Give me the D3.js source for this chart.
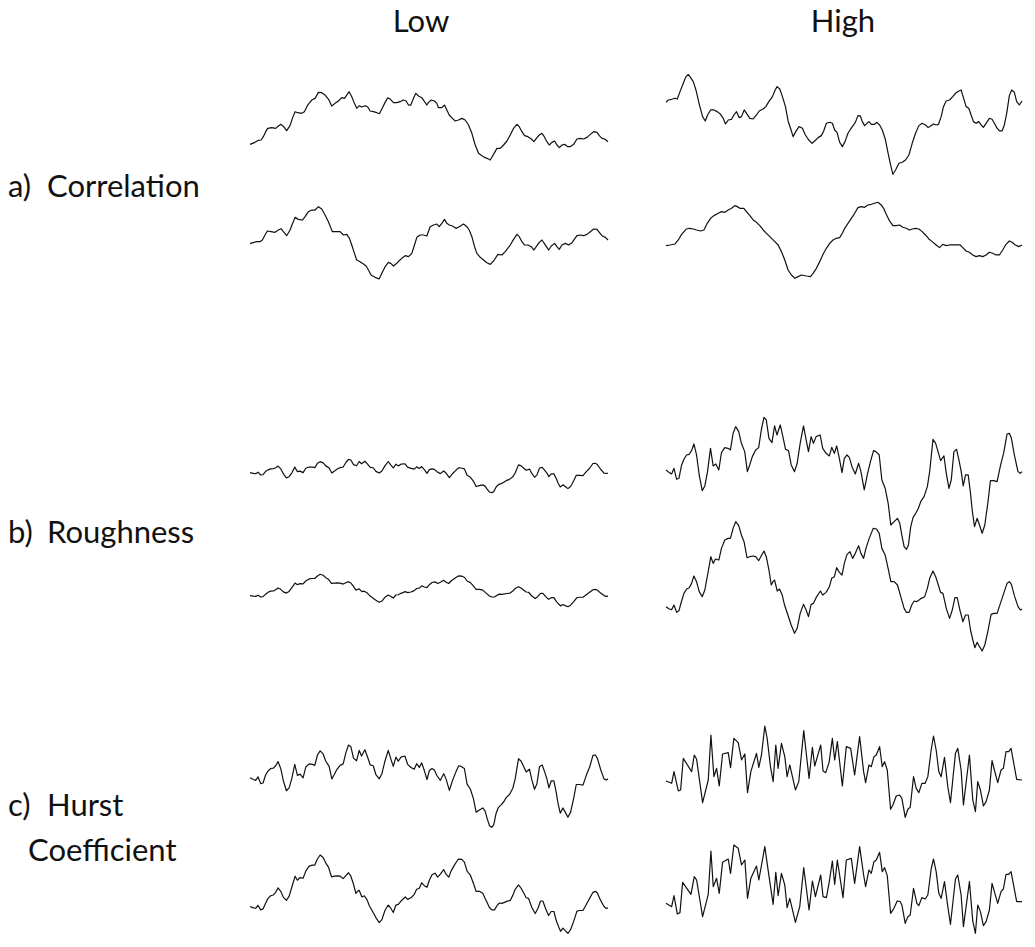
<!DOCTYPE html>
<html>
<head>
<meta charset="utf-8">
<script src="https://cdn.jsdelivr.net/npm/d3@7"></script>
<style>
  body { margin: 0; background: #fff; }
  text { font-family: "Lato", "Open Sans", sans-serif; fill: #111; }
</style>
</head>
<body>
<div id="chart"></div>
<script>
// column / row headings
var colLabels = ["Low", "High"];
var rowPrefix = ["a)", "b)", "c)"];
var rowLabels = [["Correlation"], ["Roughness"], ["Hurst", "Coefficient"]];

// each series is a list of [time, value] samples
var corrLowA = [[15,62],[30,68],[40,74],[48,75],[55,85],[62,100],[68,110],[80,112],[92,110],[100,117],[108,122],[116,115],[125,103],[135,118],[142,140],[150,160],[158,157],[170,155],[178,160],[188,180],[200,195],[210,200],[220,218],[230,217],[240,210],[250,198],[260,177],[270,185],[280,192],[290,202],[298,200],[305,210],[312,220],[320,205],[328,185],[335,170],[343,178],[350,174],[360,178],[368,174],[375,162],[385,160],[395,157],[403,154],[410,168],[420,188],[428,202],[435,198],[445,187],[455,187],[465,190],[475,195],[483,192],[490,180],[497,180],[505,200],[512,215],[520,207],[530,202],[538,190],[545,180],[550,188],[558,195],[568,192],[575,185],[580,172],[590,172],[598,180],[605,165],[612,150],[622,140],[630,132],[640,135],[650,140],[660,135],[670,120],[680,95],[690,60],[700,35],[710,28],[720,22],[730,18],[735,15],[745,32],[755,50],[765,50],[775,60],[785,72],[795,90],[805,110],[815,122],[822,115],[830,100],[838,88],[848,85],[858,78],[866,70],[875,82],[882,90],[890,95],[897,85],[905,70],[912,60],[920,68],[928,72],[935,60],[942,52],[950,60],[958,62],[967,55],[975,55],[985,62],[995,78],[1005,80],[1015,78],[1025,83],[1035,92],[1045,100],[1055,98],[1062,88],[1070,80],[1078,78],[1088,70]];

var corrLowB = [[15,125],[25,127],[35,130],[45,130],[52,135],[60,150],[67,162],[78,160],[90,158],[100,165],[108,169],[115,160],[125,148],[135,165],[142,183],[150,203],[160,197],[172,195],[180,205],[190,220],[200,225],[210,225],[220,235],[230,228],[240,210],[250,190],[258,170],[262,160],[275,160],[285,160],[295,150],[305,152],[313,140],[320,120],[328,95],[335,75],[345,70],[355,63],[363,57],[370,45],[378,30],[390,23],[402,18],[410,35],[420,55],[430,68],[437,65],[445,57],[455,65],[462,73],[470,80],[480,88],[490,85],[500,95],[508,120],[515,143],[525,150],[535,150],[545,147],[555,175],[565,180],[575,183],[582,175],[590,185],[598,197],[605,185],[612,180],[622,177],[632,170],[642,175],[655,183],[665,175],[672,165],[680,145],[688,115],[695,95],[705,83],[715,75],[725,67],[735,62],[745,72],[758,92],[770,90],[780,100],[795,120],[805,137],[815,152],[822,145],[830,130],[838,120],[848,120],[858,115],[866,105],[875,118],[882,128],[890,135],[897,125],[905,113],[910,105],[918,117],[928,125],[935,115],[942,107],[950,120],[960,125],[970,120],[980,127],[995,148],[1005,150],[1015,148],[1025,152],[1035,160],[1045,168],[1055,167],[1062,158],[1070,148],[1080,143],[1088,135]];

var corrHighA = [[18,233],[25,240],[35,242],[45,245],[52,243],[60,265],[70,290],[78,310],[85,317],[92,307],[100,295],[108,270],[118,227],[128,190],[136,177],[143,195],[152,210],[162,210],[172,205],[182,197],[190,185],[197,168],[205,180],[215,182],[222,195],[230,205],[238,187],[245,190],[253,210],[260,200],[270,185],[280,183],[290,195],[298,207],[310,213],[318,220],[327,235],[338,250],[346,270],[352,280],[360,273],[368,250],[377,220],[385,177],[393,153],[400,130],[408,145],[418,160],[428,155],[437,135],[447,120],[457,110],[465,117],[475,127],[485,133],[492,147],[500,170],[510,173],[518,170],[525,150],[532,143],[540,113],[548,100],[556,115],[565,140],[573,153],[582,165],[588,175],[595,193],[602,192],[608,175],[615,163],[622,170],[628,175],[635,167],[645,167],[652,173],[660,165],[668,150],[677,123],[685,83],[693,45],[700,17],[708,30],[718,50],[728,53],[738,60],[748,75],[758,110],[768,140],[778,163],[788,170],[798,165],[806,157],[813,162],[822,168],[830,165],[837,167],[845,190],[852,220],[860,237],[870,240],[880,250],[888,260],[898,267],[905,270],[912,247],[920,220],[928,215],[935,195],[942,175],[950,170],[958,175],[965,165],[972,158],[980,170],[990,185],[998,182],[1005,170],[1012,157],[1020,147],[1028,147],[1035,165],[1042,200],[1050,253],[1057,270],[1065,263],[1072,235],[1080,225],[1088,237]];

var corrHighB = [[18,118],[30,120],[45,123],[55,135],[65,152],[78,167],[88,170],[100,168],[110,165],[122,162],[132,165],[142,185],[152,200],[162,208],[175,215],[185,220],[195,218],[205,225],[215,230],[225,238],[232,235],[240,230],[252,230],[260,220],[270,208],[280,195],[290,188],[300,178],[310,165],[320,155],[330,145],[345,130],[355,120],[365,100],[375,75],[385,45],[395,30],[405,20],[415,25],[425,30],[440,27],[452,25],[460,35],[470,50],[480,70],[490,92],[500,110],[510,125],[520,135],[530,140],[540,142],[548,155],[555,170],[565,185],[575,200],[585,215],[595,232],[605,235],[615,233],[625,240],[635,242],[645,245],[655,248],[665,240],[672,230],[680,212],[690,192],[700,178],[710,178],[720,180],[730,173],[740,170],[750,165],[758,168],[768,170],[778,168],[788,160],[798,150],[808,138],[818,130],[830,120],[840,112],[850,122],[860,118],[870,120],[880,120],[892,120],[902,120],[910,112],[920,102],[930,98],[940,90],[950,85],[960,88],[970,85],[980,90],[990,98],[1000,95],[1010,90],[1020,90],[1030,105],[1040,122],[1050,132],[1058,128],[1068,120],[1078,115],[1088,120]];

// roughness / low-hurst pair (same signal, different amplitude)
var roughA = [[18,255],[28,247],[35,243],[42,260],[50,227],[57,230],[65,270],[72,287],[80,300],[88,302],[95,313],[102,333],[110,300],[118,240],[127,193],[135,207],[143,250],[152,320],[160,267],[168,273],[177,255],[185,307],[195,322],[205,320],[212,315],[220,365],[228,385],[237,370],[245,335],[255,310],[263,250],[270,270],[278,295],[288,315],[297,322],[305,375],[313,413],[320,405],[328,350],[337,337],[345,387],[352,360],[362,390],[370,355],[378,317],[387,313],[395,270],[405,250],[413,275],[422,335],[432,387],[440,345],[447,310],[455,355],[462,335],[470,355],[482,360],[490,320],[500,305],[510,297],[517,323],[525,305],[532,327],[540,290],[548,247],[555,290],[563,300],[570,293],[578,265],[588,243],[598,275],[605,250],[615,195],[625,245],[635,285],[643,313],[650,310],[660,300],[668,225],[678,200],[687,155],[695,90],[705,100],[715,110],[722,95],[728,60],[735,25],[742,17],[748,30],[755,85],[762,113],[770,125],[778,140],[785,160],[795,175],[805,205],[812,250],[822,347],[830,335],[838,307],[845,283],[855,297],[862,245],[870,200],[877,225],[885,310],[893,317],[900,285],[907,250],[913,207],[920,240],[928,240],[935,185],[940,135],[947,85],[955,110],[962,90],[970,65],[978,90],[987,155],[995,223],[1005,223],[1015,220],[1025,267],[1035,307],[1045,363],[1052,365],[1058,350],[1068,295],[1078,250],[1085,245],[1090,250]];

var roughB = [[18,145],[28,138],[35,136],[42,150],[50,128],[57,133],[65,162],[72,185],[80,198],[88,202],[95,215],[102,237],[110,220],[118,190],[127,175],[135,195],[145,250],[153,295],[160,275],[167,288],[177,285],[185,320],[195,345],[205,350],[212,350],[220,380],[228,400],[237,388],[245,360],[253,340],[262,292],[270,295],[280,297],[288,295],[297,283],[305,298],[313,312],[320,295],[328,255],[335,210],[340,220],[345,225],[353,192],[360,198],[368,180],[375,150],[385,120],[395,90],[405,65],[413,80],[422,125],[432,152],[440,135],[447,115],[455,152],[462,155],[470,172],[483,192],[490,180],[500,188],[510,205],[517,230],[525,235],[532,262],[540,248],[548,240],[555,275],[563,302],[572,310],[580,290],[588,305],[598,328],[605,305],[613,290],[620,320],[630,350],[642,380],[652,378],[660,365],[668,320],[678,300],[688,255],[695,220],[705,220],[715,210],[725,175],[735,140],[742,128],[750,128],[758,150],[765,162],[772,160],[780,165],[787,170],[797,175],[805,200],[812,230],[822,252],[830,235],[838,210],[845,188],[852,185],[862,140],[872,110],[880,135],[888,172],[895,172],[903,135],[912,100],[920,120],[928,120],[935,75],[942,45],[948,22],[955,38],[962,25],[970,12],[978,30],[988,75],[997,122],[1005,125],[1015,125],[1025,155],[1035,185],[1045,215],[1052,220],[1058,212],[1068,175],[1078,145],[1085,135],[1090,138]];

var hurstHighA = [[18,117],[35,110],[42,145],[55,87],[62,90],[70,185],[95,145],[103,195],[110,182],[128,52],[145,120],[153,255],[162,130],[170,155],[178,102],[188,198],[205,202],[212,157],[222,245],[235,232],[245,180],[255,198],[263,82],[273,145],[290,200],[297,158],[305,195],[315,282],[322,245],[332,160],[340,115],[348,225],[355,155],[365,230],[375,190],[382,130],[390,165],[407,90],[417,115],[432,268],[448,125],[458,218],[465,162],[483,225],[490,147],[498,142],[508,172],[518,245],[525,180],[533,235],[548,102],[560,220],[573,215],[585,135],[600,250],[612,145],[618,112],[628,165],[635,160],[643,190],[650,195],[660,220],[668,160],[675,175],[683,150],[693,32],[700,45],[710,72],[720,75],[727,65],[737,8],[745,32],[752,38],[762,130],[770,95],[778,82],[787,110],[797,110],[805,130],[815,210],[822,252],[830,210],[838,145],[845,130],[855,188],[865,100],[873,52],[888,200],[895,215],[905,150],[912,45],[930,195],[940,60],[948,25],[955,115],[963,90],[972,42],[980,55],[990,90],[998,178],[1005,150],[1015,112],[1025,150],[1032,155],[1040,205],[1048,205],[1055,215],[1072,122],[1088,120]];

var hurstHighB = [[18,95],[35,85],[42,118],[52,63],[60,67],[68,158],[93,122],[103,175],[110,165],[128,55],[145,122],[153,252],[160,145],[170,170],[178,125],[188,218],[205,228],[212,185],[222,270],[235,260],[245,210],[255,225],[263,110],[273,170],[290,207],[297,165],[315,265],[322,215],[340,92],[348,188],[355,118],[365,185],[375,150],[382,82],[390,110],[407,38],[420,85],[432,202],[448,75],[458,162],[467,115],[483,180],[490,115],[500,112],[508,155],[518,222],[525,152],[533,225],[550,112],[560,225],[575,230],[585,155],[600,265],[612,180],[618,145],[628,195],[635,185],[643,220],[650,225],[660,248],[668,190],[675,202],[683,178],[693,65],[703,80],[713,102],[722,100],[727,90],[737,35],[745,55],[752,60],[762,140],[772,95],[778,88],[787,112],[797,108],[805,120],[815,198],[822,228],[830,190],[838,125],[845,110],[855,160],[865,85],[873,32],[888,168],[895,180],[905,120],[912,25],[930,160],[940,42],[948,5],[955,90],[963,70],[972,28],[980,40],[990,75],[998,155],[1005,130],[1015,95],[1025,130],[1032,138],[1040,182],[1048,182],[1055,190],[1072,100],[1088,100]];

// layout
var W = 1035, H = 947;
var colX = [[250, 608], [666, 1022]];

// which series goes where, with its vertical band in px
var panels = [
    { series: corrLowA,   col: 0, band: [91.7, 160] },
    { series: corrLowB,   col: 0, band: [206.7, 279] },
    { series: corrHighA,  col: 1, band: [74.3, 174.3] },
    { series: corrHighB,  col: 1, band: [202.3, 278.3] },
    { series: roughA,     col: 0, band: [459.3, 492.7] },
    { series: roughB,     col: 0, band: [574.3, 606.7] },
    { series: roughA,     col: 1, band: [417.3, 549.3] },
    { series: roughB,     col: 1, band: [521.7, 651] },
    { series: roughA,     col: 0, band: [745, 827.3] },
    { series: roughB,     col: 0, band: [855, 933.3] },
    { series: hurstHighA, col: 1, band: [726, 817.3] },
    { series: hurstHighB, col: 1, band: [845, 933.3] }
];

var svg = d3.select("#chart")
    .append("svg")
    .attr("width", W)
    .attr("height", H);

panels.forEach(function (p) {
    var x = d3.scaleLinear()
        .domain(d3.extent(p.series, function (d) { return d[0]; }))
        .range(colX[p.col]);
    var y = d3.scaleLinear()
        .domain(d3.extent(p.series, function (d) { return d[1]; }))
        .range([p.band[1], p.band[0]]);
    var line = d3.line()
        .x(function (d) { return x(d[0]); })
        .y(function (d) { return y(d[1]); });
    svg.append("path")
        .datum(p.series)
        .attr("d", line)
        .attr("fill", "none")
        .attr("stroke", "#111")
        .attr("stroke-width", 1.2)
        .attr("stroke-linejoin", "round");
});

var fontSize = "31px";

// column headings
var colCenter = d3.scaleOrdinal().domain(colLabels).range([421, 843]);
svg.selectAll(".colhead")
    .data(colLabels)
    .enter()
    .append("text")
    .attr("class", "colhead")
    .attr("x", function (d) { return colCenter(d); })
    .attr("y", 32)
    .style("text-anchor", "middle")
    .style("font-size", fontSize)
    .text(function (d) { return d; });

// row labels: prefix, then the name (second line indented)
var rowY = [197, 543, 816];
rowLabels.forEach(function (lines, i) {
    svg.append("text")
        .attr("x", 8)
        .attr("y", rowY[i])
        .style("font-size", fontSize)
        .text(rowPrefix[i]);
    lines.forEach(function (s, j) {
        svg.append("text")
            .attr("x", j == 0 ? 47 : 28)
            .attr("y", rowY[i] + j * 45)
            .style("font-size", fontSize)
            .text(s);
    });
});
</script>
</body>
</html>
